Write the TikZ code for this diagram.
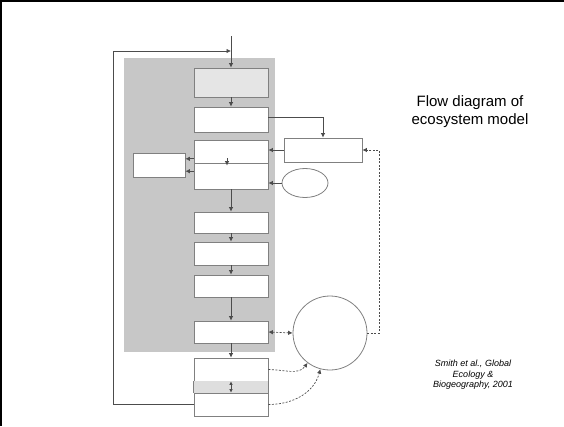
\documentclass[tikz,border=0pt]{standalone}
\usepackage{fontspec}
\setmainfont{Liberation Sans}
\usetikzlibrary{arrows.meta,calc,shapes.geometric}

\begin{document}
\begin{tikzpicture}[x=1pt,y=-1pt,
    box/.style={draw=black!50,fill=white,line width=0.8pt,minimum width=74pt,inner sep=0pt},
    arr/.style={draw=black!70,line width=0.7pt,-{Latex[length=4.5pt,width=4.5pt]}},
    dasharr/.style={arr,dash pattern=on 2pt off 1.5pt}]
      \useasboundingbox (0,0) rectangle (564,426);
      % slide frame
      \draw[line width=2pt] (1,426) -- (1,1) -- (564,1);

      % shaded block
      \fill[black!22] (124,58) rectangle (275,352);

      % main column
      \node[box,fill=black!10,minimum height=29pt] (b1) at (231,82.5) {};
      \node[box,minimum height=25pt] (b2) at (231,119.5) {};
      \node[box,minimum height=23pt] (b3a) at (231,151.5) {};
      \node[box,minimum height=26pt] (b3b) at (231,176) {};
      \node[box,minimum height=21pt] (b4) at (231,222.5) {};
      \node[box,minimum height=23pt] (b5) at (231,253.5) {};
      \node[box,minimum height=22pt] (b6) at (231,286) {};
      \node[box,minimum height=22pt] (b7) at (231,332) {};
      \node[box,minimum height=23pt] (b8) at (231,369.5) {};
      \node[box,minimum height=23pt] (b9) at (231,404.5) {};
      \fill[black!13] (b8.south west) rectangle (b9.north east);
      \draw[black!50,line width=0.8pt] (b8.south west) -- (b9.north west)
        (b8.south east) -- (b9.north east);

      % side boxes
      \node[box,minimum width=52pt,minimum height=24pt] (lb) at (159,165) {};
      \node[box,minimum width=78pt,minimum height=24pt] (mb) at (323,150) {};
      \node[draw=black!50,line width=0.8pt,ellipse,minimum width=46pt,minimum height=29pt] (el) at (305,183) {};
      \node[draw=black!50,line width=0.8pt,circle,minimum size=74pt] (ci) at (330,333) {};

      % text
      \node[font=\fontsize{15}{18}\selectfont,align=center] (title) at (470,112) {Flow diagram of\\ecosystem model};
      \node[font=\fontsize{9}{10.5}\selectfont\itshape,align=center] (cite) at (473,375) {Smith et al., Global\\Ecology \&\\Biogeography, 2001};

      % flow down the column
      \coordinate (input) at (231,36);
      \coordinate (fb) at (113,51);
      \coordinate (join) at (231,51);
      \draw[arr] (input) -- (b1);
      \draw[arr] (b9.west) -| (fb) -- (join);
      \draw[arr] (b1) -- (b2);
      \draw[arr] ([xshift=-4pt,yshift=5pt]b3a.south) -- ([xshift=-4pt,yshift=-3pt]b3b.north);
      \draw[arr] (b3b) -- (b4);
      \draw[arr] (b4) -- (b5);
      \draw[arr] (b5) -- (b6);
      \draw[arr] (b6) -- (b7);
      \draw[arr] (b7) -- (b8);
      \draw[arr,{Latex[length=3.5pt,width=3.5pt]}-{Latex[length=3.5pt,width=3.5pt]}] (b8) -- (b9);

      % links to the side boxes
      \coordinate (l1) at ($(lb.east)!.5!(lb.north east)$);
      \coordinate (l2) at ($(lb.east)!.5!(lb.south east)$);
      \draw[arr] (l1 -| b3a.west) -- (l1);
      \draw[arr] (l2 -| b3b.west) -- (l2);
      \draw[arr] ([yshift=2pt]b2.east) -| (mb.north);
      \draw[arr] (mb.west) -- (mb.west -| b3a.east);
      \draw[arr] (el.west) -- (el.west -| b3b.east);

      % dashed feedbacks through the circle
      \draw[dasharr,{Latex[length=4.5pt,width=4.5pt]}-{Latex[length=4.5pt,width=4.5pt]}] (b7.east) -- (ci.west);
      \draw[dasharr] (b8.east) to[out=0,in=235] (ci.233);
      \draw[dasharr] (b9.east) to[out=0,in=255] (ci.255);
      \draw[dasharr] (ci.east) -- ++(12,0) |- (mb.east);
    \end{tikzpicture}
\end{document}
